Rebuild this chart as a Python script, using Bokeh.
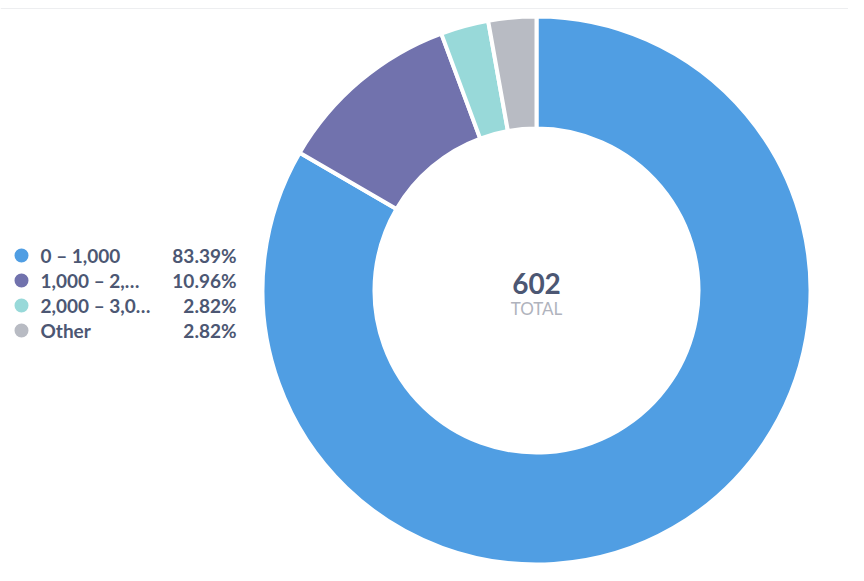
from math import pi

from bokeh.plotting import figure
from bokeh.models import ColumnDataSource, Range1d, Span
from bokeh.core.properties import value
from bokeh.embed import file_html
from bokeh.resources import INLINE

categories = ["0 – 1,000", "1,000 – 2,…", "2,000 – 3,0…", "Other"]
counts = [502, 66, 17, 17]
colors = ["#509EE3", "#7172AD", "#98D9D9", "#B8BBC3"]
total_label = "TOTAL"

W, H = 848, 565
cx, cy = 536, 275
inner_r, outer_r = 162, 274

total = sum(counts)
pcts = ["%.2f%%" % (c / total * 100) for c in counts]

# wedges run clockwise from 12 o'clock
starts, ends = [], []
acc = 0
for c in counts:
    starts.append(pi / 2 - acc / total * 2 * pi)
    acc += c
    ends.append(pi / 2 - acc / total * 2 * pi)

source = ColumnDataSource(data=dict(cat=categories, count=counts, color=colors,
                                    start=starts, end=ends, pct=pcts))

p = figure(width=W, height=H, x_range=Range1d(0, W), y_range=Range1d(0, H),
           toolbar_location=None, tools="", min_border=0,
           background_fill_color="white", border_fill_color="white",
           outline_line_color=None, output_backend="svg")
p.axis.visible = False
p.grid.grid_line_color = None

p.annular_wedge(x=cx, y=cy, inner_radius=inner_r, outer_radius=outer_r,
                start_angle="start", end_angle="end", direction="clock",
                fill_color="color", line_color="white", line_width=4, source=source)

p.add_layout(Span(location=H - 8, dimension="width", line_color="#EDEEF0", line_width=1))

# centre total
p.text(x=[cx], y=[cy + 7], text=[f"{total:,}"], text_align="center", text_baseline="middle",
       text_font=value("Lato"), text_font_style="bold", text_font_size="28px", text_color="#4C5773")
p.text(x=[cx], y=[cy - 18], text=[total_label], text_align="center", text_baseline="middle",
       text_font=value("Lato"), text_font_size="17px", text_color="#B0B3BD")

# legend
row_top, row_step = 310, 25
ys = [row_top - i * row_step for i in range(len(categories))]
leg = ColumnDataSource(data=dict(y=ys, cat=categories, pct=pcts, color=colors))
p.scatter(x=21, y="y", size=14, fill_color="color", line_color=None, source=leg)
p.text(x=40, y="y", text="cat", text_align="left", text_baseline="middle",
       text_font=value("Lato"), text_font_style="bold", text_font_size="19px",
       text_color="#4C5773", source=leg)
p.text(x=236, y="y", text="pct", text_align="right", text_baseline="middle",
       text_font=value("Lato"), text_font_style="bold", text_font_size="19px",
       text_color="#4C5773", source=leg)

open("out.html", "w").write(file_html(p, INLINE))
